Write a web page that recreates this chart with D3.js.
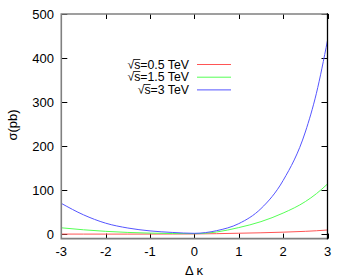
<!DOCTYPE html>
<html><head><meta charset="utf-8">
<script src="https://cdn.jsdelivr.net/npm/d3@7"></script>
<style>body{margin:0;background:#fff}svg{display:block}text{font-family:"Liberation Sans",Arial,sans-serif}</style>
</head><body><svg id="c" width="350" height="279"></svg>
<script>
const xTicks = [-3,-2,-1,0,1,2,3];
const yTicks = [0,100,200,300,400,500];
const xs = [-3,-2.5,-2,-1.5,-1,-0.5,0,0.5,1,1.5,2,2.5,2.75,3];
const blue  = [70,44,25,14,7.5,4,2,8,24,58,122,232,320,440];
const green = [14.5,10,6.5,4,2.5,1.5,1.2,5,15,28.5,48,74,92,114];
const red   = [0.3,0.2,0.2,0.2,0.3,0.4,0.6,1.2,2.2,3.2,4.6,6.5,7.8,9.5];
const labels = ["0.5 TeV","1.5 TeV","3 TeV"];
const colors = ["#ff5555","#55ff55","#5555ff"];
const series = [red, green, blue];

const svg = d3.select("#c");
const x = d3.scaleLinear().domain([-3,3]).range([61.3,327.5]);
const y = d3.scaleLinear().domain([-10,500]).range([238.6,14]);

const g = svg.append("g");
yTicks.forEach(t=>{
  g.append("line").attr("x1",x(-3)).attr("x2",x(-3)+6).attr("y1",Math.round(y(t))+0.5).attr("y2",Math.round(y(t))+0.5).attr("stroke","#000");
  g.append("line").attr("x1",x(3)).attr("x2",x(3)-6).attr("y1",Math.round(y(t))+0.5).attr("y2",Math.round(y(t))+0.5).attr("stroke","#000");
  g.append("text").attr("x",54).attr("y",y(t)+4.5).attr("text-anchor","end").attr("font-size",13).text(t);
});
xTicks.forEach(t=>{
  g.append("line").attr("x1",Math.round(x(t))+0.5).attr("x2",Math.round(x(t))+0.5).attr("y1",y(-10)).attr("y2",y(-10)-5).attr("stroke","#000");
  g.append("line").attr("x1",Math.round(x(t))+0.5).attr("x2",Math.round(x(t))+0.5).attr("y1",y(500)).attr("y2",y(500)+5).attr("stroke","#000");
  g.append("text").attr("x",x(t)).attr("y",256).attr("text-anchor","middle").attr("font-size",13).text(t);
});

const line = d3.line().x((d,i)=>x(xs[i])).y(d=>y(d)).curve(d3.curveMonotoneX);
series.forEach((s,k)=>{
  svg.append("path").attr("d",line(s)).attr("fill","none").attr("stroke",colors[k]).attr("stroke-width",1);
});

svg.append("path").attr("d",`M${x(3)},${y(500)}H${x(-3)}V${y(-10)}H${x(3)}`).attr("fill","none").attr("stroke","#808080").attr("stroke-width",1.6);
svg.append("line").attr("x1",x(3)).attr("x2",x(3)).attr("y1",y(500)-0.8).attr("y2",y(-10)+0.8).attr("stroke","#000").attr("stroke-width",1.3);

// legend
labels.forEach((l,k)=>{
  const yy = 64 + k*12.7;
  const t = svg.append("text").attr("x",189).attr("y",yy+4.5).attr("text-anchor","end").attr("font-size",12.3);
  t.append("tspan").text("\u221A");
  const s = t.append("tspan").text("s");
  t.append("tspan").text("=" + l);
  const bb = s.node().getBBox();
  svg.append("line").attr("x1",bb.x-0.5).attr("x2",bb.x+bb.width).attr("y1",Math.round(bb.y)+1.5).attr("y2",Math.round(bb.y)+1.5).attr("stroke","#000").attr("stroke-width",0.8);
  svg.append("line").attr("x1",197).attr("x2",231).attr("y1",yy+0.5).attr("y2",yy+0.5).attr("stroke",colors[k]).attr("stroke-width",1);
});

svg.append("text").attr("transform","translate(17,125) rotate(-90)").attr("text-anchor","middle").attr("font-size",13).text("\u03C3(pb)");
svg.append("text").attr("x",194).attr("y",275).attr("text-anchor","middle").attr("font-size",13).text("\u0394 \u03BA");
</script></body></html>
